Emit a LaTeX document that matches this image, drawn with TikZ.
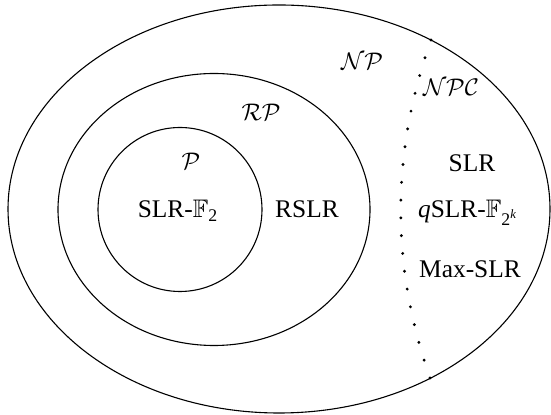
\documentclass[tikz,border=0pt]{standalone}
\usepackage{amsmath,amssymb}
\usepackage{fontspec}
\setmainfont{Liberation Serif}
\begin{document}
\begin{tikzpicture}[x=0.5pt,y=-0.5pt,
  set/.style={line width=0.55pt},
  lbl/.style={anchor=base,inner sep=0pt,font=\fontsize{12.7}{15}\selectfont},
  cls/.style={anchor=base,inner sep=0pt,font=\fontsize{13}{15}\selectfont}]
\useasboundingbox (0,0) rectangle (551,415);
% sets
\draw[set] (279,209) ellipse [x radius=135.5pt, y radius=102pt];
\draw[set] (214,209.5) ellipse [x radius=78pt, y radius=68pt];
\draw[set] (180,209.5) circle [radius=41pt];
% dotted boundary of NPC
\coordinate (dtop) at (431,40);
\coordinate (dmid) at (371,209);
\coordinate (dbot) at (430,378);
\foreach \i in {0,...,19}{
  \pgfmathsetmacro{\t}{\i/19}
  \pgfmathsetmacro{\px}{(1-\t)^2*431+2*\t*(1-\t)*371+\t^2*430}
  \pgfmathsetmacro{\py}{(1-\t)^2*40+2*\t*(1-\t)*209+\t^2*378}
  \fill (\px,\py) circle [radius=0.8pt];
}
% labels
\node[cls] (np) at (362,70) {$\mathcal{NP}$};
\node[cls] (npc) at (451,96) {$\mathcal{NPC}$};
\node[cls] (rp) at (261,121) {$\mathcal{RP}$};
\node[cls] (p) at (191,170) {$\mathcal{P}$};
\node[lbl] (slrf2) at (178,218) {SLR-$\mathbb{F}_{\text{2}}$};
\node[lbl] (rslr) at (307,218) {RSLR};
\node[lbl] (slr) at (472,172) {SLR};
\node[lbl] (qslr) at (468,218) {\textit{q}SLR-$\mathbb{F}_{\text{2}^{\textit{k}}}$};
\node[lbl] (maxslr) at (470,278) {Max-SLR};
\end{tikzpicture}
\end{document}
